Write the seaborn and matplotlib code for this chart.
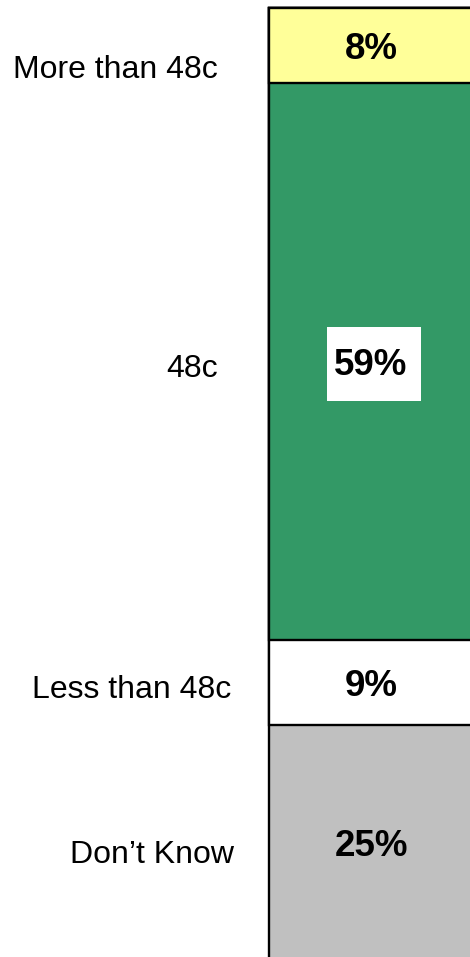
import matplotlib
matplotlib.use("Agg")
import matplotlib.pyplot as plt
from matplotlib.patches import Rectangle
import numpy as np
import pandas as pd
import seaborn as sns

# Survey answers, stacked top to bottom
categories = ["More than 48c", "48c", "Less than 48c", "Don't Know"]
shares = [8, 59, 9, 25]
value_labels = ["8%", "59%", "9%", "25%"]
category_labels = ["More than 48c", "48c", "Less than 48c", "Don\u2019t Know"]
colors = ["#FFFF99", "#339966", "#FFFFFF", "#C0C0C0"]

# Right edge and baseline (pixels from top) of each category label
label_right_px = [218, 218, 231, 234]
label_baseline_px = [78, 377, 698, 863]

sns.set_style("white")
plt.rcParams["font.family"] = ["Liberation Sans", "DejaVu Sans"]

W, H, DPI = 470, 957, 100
fig = plt.figure(figsize=(W / DPI, H / DPI), dpi=DPI)
fig.patch.set_facecolor("white")

ax_left_px, ax_top_px = 266, 4
ax = fig.add_axes([ax_left_px / W, 0, (W - ax_left_px) / W, (H - ax_top_px) / H])

cum = np.cumsum(shares)
starts = cum - np.array(shares)
df = pd.DataFrame({"group": ["All"] * len(shares), "top": cum})

# Stack by overdrawing cumulative bars, longest first
for i in range(len(shares) - 1, -1, -1):
    sns.barplot(data=df.iloc[[i]], x="group", y="top", color=colors[i],
                saturation=1, edgecolor="black", linewidth=1.7, width=0.8,
                ax=ax, errorbar=None, zorder=2)

# Axis scale: 9.43 px per percentage point, bar top 8 px below the figure top
px_per_pct = 9.43
px_per_x = 255.0
bar_left_px = 269
x0 = -0.4 - (bar_left_px - ax_left_px) / px_per_x
x1 = x0 + (W - ax_left_px) / px_per_x
y_top = -(8 - ax_top_px) / px_per_pct
y_bot = (H - 8) / px_per_pct
ax.set_xlim(x0, x1)
ax.set_ylim(y_bot, y_top)
ax.set_axis_off()

# Percentage labels centred in each segment
for i, (s, v) in enumerate(zip(starts, shares)):
    yc = s + v / 2
    if i == 1:
        bw, bh = 94 / px_per_x, 74 / px_per_pct
        ax.add_patch(Rectangle((0.01 - bw / 2, yc + 0.25 - bh / 2), bw, bh,
                               facecolor="white", edgecolor="none", zorder=3))
    ax.text(0, yc, value_labels[i], ha="center", va="center_baseline",
            fontsize=26.5, fontweight="bold", color="black", zorder=4)

# Category labels to the left of the bar
for lab, xr, yb in zip(category_labels, label_right_px, label_baseline_px):
    fig.text(xr / W, 1 - yb / H, lab, ha="right", va="baseline",
             fontsize=23, color="black")

fig.savefig("out.png", dpi=DPI, facecolor="white")
